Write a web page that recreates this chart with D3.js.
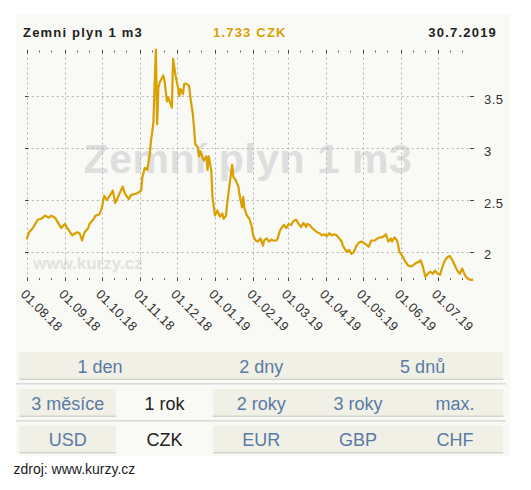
<!DOCTYPE html>
<html lang="cs">
<head>
    <meta charset="UTF-8">
    <script src="https://d3js.org/d3.v7.min.js"></script>
    <style>
        body { margin: 0; background: #fff; }
        text { font-family: "Liberation Sans", Arial, sans-serif; }
    </style>
</head>
<body>
<div id="chart">
<script>
    // header
    var title = "Zemni plyn 1 m3";
    var price = "1.733 CZK";
    var lastDate = "30.7.2019";

    // price series, CZK per m3
    var dates = [
        "2018-08-01","2018-08-03","2018-08-06","2018-08-10","2018-08-13","2018-08-16","2018-08-19","2018-08-21",
        "2018-08-24","2018-08-27","2018-08-29","2018-09-01","2018-09-03","2018-09-07","2018-09-11","2018-09-13",
        "2018-09-15","2018-09-17","2018-09-20","2018-09-21","2018-09-24","2018-09-26","2018-09-29","2018-10-01",
        "2018-10-03","2018-10-05","2018-10-08","2018-10-10","2018-10-12","2018-10-15","2018-10-18","2018-10-20",
        "2018-10-23","2018-10-25","2018-10-29","2018-11-02","2018-11-03","2018-11-05","2018-11-07","2018-11-09",
        "2018-11-10","2018-11-11","2018-11-12","2018-11-13","2018-11-14","2018-11-15","2018-11-16","2018-11-17",
        "2018-11-20","2018-11-21","2018-11-23","2018-11-24","2018-11-26","2018-11-27","2018-11-28","2018-11-29",
        "2018-11-30","2018-12-02","2018-12-03","2018-12-04","2018-12-06","2018-12-07","2018-12-09","2018-12-11",
        "2018-12-12","2018-12-14","2018-12-15","2018-12-16","2018-12-18","2018-12-19","2018-12-20","2018-12-23",
        "2018-12-25","2018-12-26","2018-12-27","2018-12-29","2018-12-30","2019-01-01","2019-01-03","2019-01-05",
        "2019-01-07","2019-01-08","2019-01-10","2019-01-11","2019-01-13","2019-01-15","2019-01-16","2019-01-18",
        "2019-01-20","2019-01-21","2019-01-23","2019-01-24","2019-01-25","2019-01-27","2019-01-29","2019-01-31",
        "2019-02-01","2019-02-03","2019-02-05","2019-02-07","2019-02-09","2019-02-10","2019-02-12","2019-02-14",
        "2019-02-16","2019-02-17","2019-02-20","2019-02-21","2019-02-23","2019-02-26","2019-02-28","2019-03-02",
        "2019-03-04","2019-03-06","2019-03-08","2019-03-10","2019-03-12","2019-03-14","2019-03-16","2019-03-17",
        "2019-03-19","2019-03-21","2019-03-23","2019-03-25","2019-03-27","2019-03-29","2019-03-31","2019-04-02",
        "2019-04-04","2019-04-06","2019-04-08","2019-04-10","2019-04-12","2019-04-14","2019-04-15","2019-04-18",
        "2019-04-20","2019-04-22","2019-04-24","2019-04-26","2019-04-28","2019-04-30","2019-05-03","2019-05-06",
        "2019-05-08","2019-05-11","2019-05-13","2019-05-15","2019-05-17","2019-05-20","2019-05-22","2019-05-24",
        "2019-05-25","2019-05-27","2019-05-29","2019-05-30","2019-05-31","2019-06-03","2019-06-04","2019-06-07",
        "2019-06-09","2019-06-11","2019-06-13","2019-06-15","2019-06-17","2019-06-19","2019-06-21","2019-06-23",
        "2019-06-25","2019-06-27","2019-06-29","2019-07-01","2019-07-03","2019-07-05","2019-07-07","2019-07-09",
        "2019-07-11","2019-07-13","2019-07-15","2019-07-17","2019-07-19","2019-07-21","2019-07-22","2019-07-24",
        "2019-07-26","2019-07-28","2019-07-30"
    ];
    var values = [
        2.12,2.19,2.23,2.31,2.32,2.35,2.33,2.35,
        2.33,2.27,2.23,2.27,2.23,2.16,2.19,2.18,
        2.11,2.19,2.23,2.27,2.31,2.35,2.36,2.42,
        2.54,2.50,2.55,2.59,2.47,2.55,2.63,2.56,
        2.51,2.55,2.56,2.59,2.72,2.81,2.79,2.94,
        3.07,3.15,3.25,3.62,3.95,3.23,3.58,3.63,
        3.70,3.65,3.45,3.49,3.42,3.39,3.86,3.78,
        3.70,3.58,3.50,3.57,3.52,3.62,3.62,3.60,
        3.49,3.33,3.20,3.04,3.01,2.92,2.97,2.88,
        2.92,2.79,2.92,2.79,2.53,2.35,2.40,2.34,
        2.37,2.32,2.35,2.47,2.66,2.84,2.72,2.69,
        2.63,2.55,2.43,2.53,2.42,2.35,2.32,2.24,
        2.16,2.11,2.10,2.13,2.06,2.11,2.13,2.10,
        2.12,2.11,2.11,2.13,2.21,2.26,2.23,2.27,
        2.26,2.30,2.31,2.27,2.24,2.28,2.24,2.27,
        2.26,2.23,2.21,2.19,2.18,2.16,2.17,2.15,
        2.18,2.16,2.17,2.16,2.13,2.10,2.06,2.00,
        2.02,1.98,2.00,2.06,2.09,2.10,2.08,2.05,
        2.11,2.11,2.13,2.14,2.14,2.17,2.10,2.13,
        2.10,2.14,2.11,2.06,2.00,1.95,1.92,1.87,
        1.86,1.87,1.89,1.90,1.92,1.86,1.76,1.79,
        1.81,1.79,1.82,1.79,1.78,1.86,1.92,1.95,
        1.96,1.92,1.87,1.82,1.79,1.84,1.81,1.76,
        1.74,1.73,1.733
    ];

    var yTicks = [2, 2.5, 3, 3.5];
    var monthTicks = ["2018-08-01","2018-09-01","2018-10-01","2018-11-01","2018-12-01","2019-01-01",
                      "2019-02-01","2019-03-01","2019-04-01","2019-05-01","2019-06-01","2019-07-01"];
    var monthLabels = ["01.08.18","01.09.18","01.10.18","01.11.18","01.12.18","01.01.19",
                       "01.02.19","01.03.19","01.04.19","01.05.19","01.06.19","01.07.19"];

    // buttons
    var rangeRow1 = ["1 den", "2 dny", "5 dnů"];
    var rangeRow2 = ["3 měsíce", "1 rok", "2 roky", "3 roky", "max."];
    var currencies = ["USD", "CZK", "EUR", "GBP", "CHF"];
    var selected = ["1 rok", "CZK"];
    var source = "zdroj: www.kurzy.cz";

    var gold = "#d9a000";
    var parse = d3.timeParse("%Y-%m-%d");
    var data = dates.map(function (d, i) { return { date: parse(d), value: values[i] }; });

    var svg = d3.select("#chart")
        .append("svg")
        .attr("width", 531)
        .attr("height", 490);

    svg.append("rect")
        .attr("x", 16).attr("y", 14)
        .attr("width", 494).attr("height", 442)
        .attr("fill", "#f9f9f5");

    var x = d3.scaleTime()
        .domain([parse("2018-08-01"), parse("2019-07-30")])
        .range([26.7, 473.3]);
    var y = d3.scaleLinear()
        .domain([1.72, 3.95])
        .range([281, 49.5]);

    // header
    svg.append("text").attr("x", 23).attr("y", 37)
        .style("font-size", "13px").style("font-weight", "bold").style("letter-spacing", "1.2px")
        .attr("fill", "#222").text(title);
    svg.append("text").attr("x", 213).attr("y", 37)
        .style("font-size", "13px").style("font-weight", "bold").style("letter-spacing", "1.2px")
        .attr("fill", gold).text(price);
    svg.append("text").attr("x", 497).attr("y", 37).attr("text-anchor", "end")
        .style("font-size", "13px").style("font-weight", "bold").style("letter-spacing", "1.2px")
        .attr("fill", "#222").text(lastDate);

    // watermarks
    svg.append("text").attr("x", 248).attr("y", 173).attr("text-anchor", "middle")
        .style("font-size", "41px").style("font-weight", "bold").style("letter-spacing", "0.5px")
        .attr("fill", "#dedede").text("Zemní plyn 1 m3");
    svg.append("text").attr("x", 33).attr("y", 269)
        .style("font-size", "17px").style("font-weight", "bold")
        .attr("fill", "#e2e2e2").text("www.kurzy.cz");

    // grid
    var grid = svg.append("g").attr("stroke", "#b4b4b4").attr("stroke-width", 1);
    grid.selectAll("line.h")
        .data(yTicks)
        .enter()
        .append("line")
        .attr("x1", x.range()[0]).attr("x2", x.range()[1] - 3)
        .attr("y1", function (d) { return Math.round(y(d)) + 0.5; })
        .attr("y2", function (d) { return Math.round(y(d)) + 0.5; })
        .attr("stroke-dasharray", "2,3");
    grid.selectAll("line.v")
        .data(monthTicks)
        .enter()
        .append("line")
        .attr("x1", function (d) { return Math.round(x(parse(d))) + 0.5; })
        .attr("x2", function (d) { return Math.round(x(parse(d))) + 0.5; })
        .attr("y1", y.range()[1] + 3).attr("y2", y.range()[0] - 3)
        .attr("stroke-dasharray", "2,3");

    // price line
    var line = d3.line()
        .x(function (d) { return x(d.date); })
        .y(function (d) { return y(d.value); });
    svg.append("path")
        .datum(data)
        .attr("d", line)
        .attr("fill", "none")
        .attr("stroke", gold)
        .attr("stroke-width", 2.2)
        .attr("stroke-linejoin", "round");

    // tick marks along top and bottom
    var minor = d3.timeDay.range(x.domain()[0], x.domain()[1]).filter(function (d) {
        return d.getDate() === 11 || d.getDate() === 21;
    });
    var ticks = svg.append("g").attr("stroke", "#444").attr("stroke-width", 1);
    [50, 277.5].forEach(function (ty) {
        ticks.selectAll(null)
            .data(monthTicks)
            .enter()
            .append("line")
            .attr("x1", function (d) { return Math.round(x(parse(d))) + 0.5; })
            .attr("x2", function (d) { return Math.round(x(parse(d))) + 0.5; })
            .attr("y1", ty).attr("y2", ty + 3.5);
        ticks.selectAll(null)
            .data(minor)
            .enter()
            .append("line")
            .attr("x1", function (d) { return Math.round(x(d)) + 0.5; })
            .attr("x2", function (d) { return Math.round(x(d)) + 0.5; })
            .attr("y1", ty + 0.5).attr("y2", ty + 2.5)
            .attr("stroke", "#666");
    });
    [[25, 28.5], [470, 474]].forEach(function (tx) {
        ticks.selectAll(null)
            .data(yTicks)
            .enter()
            .append("line")
            .attr("x1", tx[0]).attr("x2", tx[1])
            .attr("y1", function (d) { return Math.round(y(d)) + 0.5; })
            .attr("y2", function (d) { return Math.round(y(d)) + 0.5; });
    });

    // axis labels
    svg.selectAll("text.ylab")
        .data(yTicks)
        .enter()
        .append("text")
        .attr("x", 484)
        .attr("y", function (d) { return y(d) + 7.5; })
        .style("font-size", "13px").style("letter-spacing", "0.5px")
        .attr("fill", "#333")
        .text(function (d) { return d; });

    svg.selectAll("text.xlab")
        .data(monthTicks)
        .enter()
        .append("text")
        .attr("transform", function (d) {
            return "translate(" + (x(parse(d)) - 6.6) + ",295) rotate(45)";
        })
        .style("font-size", "13px").style("letter-spacing", "0.2px")
        .attr("fill", "#333")
        .text(function (d, i) { return monthLabels[i]; });

    // button rows
    function buttonRow(labels, top) {
        var band = d3.scaleBand().domain(labels).range([19.3, 503.3]);
        var g = svg.append("g");
        labels.forEach(function (lab) {
            var on = selected.indexOf(lab) >= 0;
            if (!on) {
                g.append("rect")
                    .attr("x", band(lab)).attr("y", top)
                    .attr("width", band.bandwidth()).attr("height", 27)
                    .attr("fill", "#f0f0e6");
                g.append("rect")
                    .attr("x", band(lab)).attr("y", top + 26.5)
                    .attr("width", band.bandwidth()).attr("height", 1.5)
                    .attr("fill", "#d4d4ca");
            }
            g.append("text")
                .attr("x", band(lab) + band.bandwidth() / 2)
                .attr("y", top + 20.5)
                .attr("text-anchor", "middle")
                .style("font-size", "18px")
                .attr("fill", on ? "#222" : "#5a7aa5")
                .text(lab);
        });
    }
    buttonRow(rangeRow1, 352);
    buttonRow(rangeRow2, 389);
    buttonRow(currencies, 425.5);

    [383, 420].forEach(function (sy) {
        svg.append("rect")
            .attr("x", 16).attr("y", sy)
            .attr("width", 490).attr("height", 1.6)
            .attr("fill", "#dcdcdc");
    });

    svg.append("text").attr("x", 13.5).attr("y", 474)
        .style("font-size", "14px")
        .attr("fill", "#222")
        .text(source);
</script>
</div>
</body>
</html>
